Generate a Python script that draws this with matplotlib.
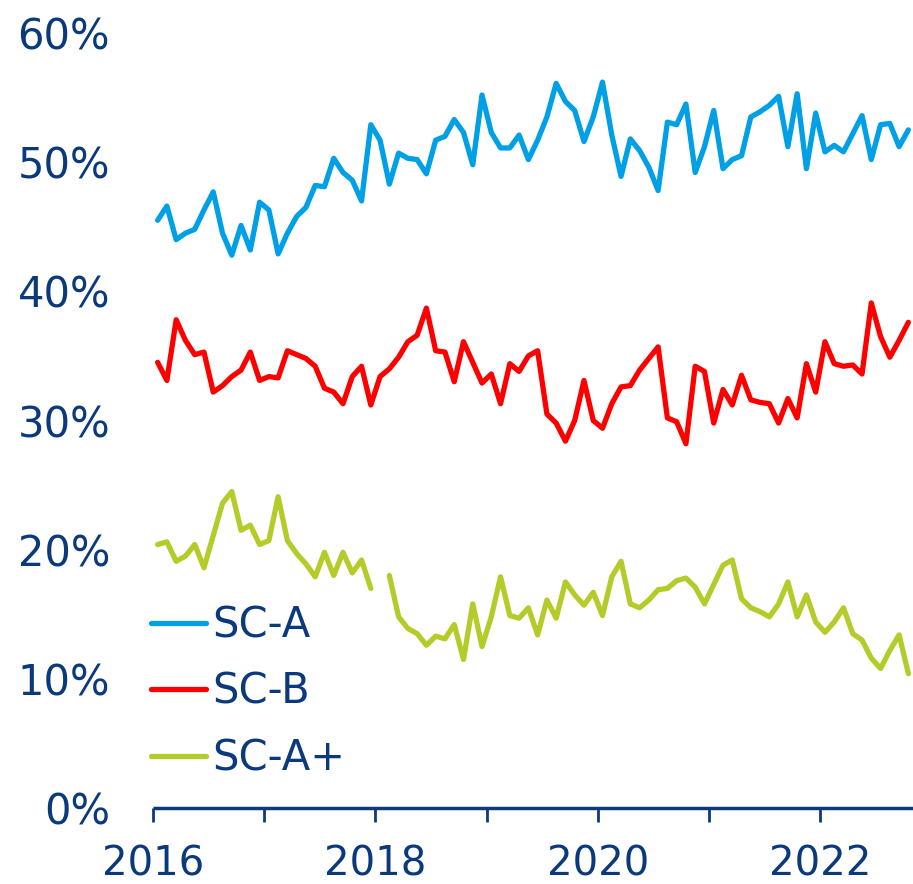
import numpy as np
import matplotlib
matplotlib.use("Agg")
import matplotlib.pyplot as plt

start_year = 2016
sc_a = [45.5, 46.6, 44.0, 44.5, 44.8, 46.3, 47.7, 44.5, 42.8, 45.1, 43.2, 46.9,
        46.3, 42.9, 44.5, 45.8, 46.5, 48.2, 48.1, 50.3, 49.2, 48.6, 47.0, 52.9,
        51.7, 48.3, 50.7, 50.3, 50.2, 49.1, 51.7, 52.0, 53.3, 52.3, 49.8, 55.2,
        52.3, 51.1, 51.1, 52.1, 50.2, 51.7, 53.5, 56.1, 54.7, 54.0, 51.6, 53.5,
        56.2, 52.1, 48.9, 51.8, 50.9, 49.6, 47.8, 53.1, 52.9, 54.5, 49.2, 51.2,
        54.0, 49.5, 50.2, 50.5, 53.5, 53.9, 54.4, 55.1, 51.2, 55.3, 49.5, 53.8,
        50.8, 51.3, 50.8, 52.2, 53.6, 50.2, 52.9, 53.0, 51.2, 52.5]
sc_b = [34.5, 33.1, 37.8, 36.2, 35.1, 35.3, 32.2, 32.7, 33.4, 33.9, 35.3, 33.1,
        33.4, 33.3, 35.4, 35.1, 34.8, 34.2, 32.5, 32.2, 31.3, 33.4, 34.2, 31.2,
        33.4, 34.0, 34.9, 36.1, 36.6, 38.7, 35.4, 35.3, 33.0, 36.1, 34.5, 32.9,
        33.6, 31.3, 34.4, 33.8, 35.0, 35.4, 30.5, 29.8, 28.4, 30.0, 33.1, 30.0,
        29.4, 31.3, 32.6, 32.7, 33.9, 34.8, 35.7, 30.2, 29.9, 28.2, 34.2, 33.8,
        29.8, 32.4, 31.2, 33.5, 31.6, 31.4, 31.3, 29.8, 31.7, 30.2, 34.4, 32.2,
        36.1, 34.4, 34.2, 34.3, 33.6, 39.1, 36.5, 34.9, 36.2, 37.6]
sc_aplus = [20.4, 20.6, 19.1, 19.5, 20.4, 18.6, 21.1, 23.6, 24.5, 21.5, 21.9, 20.4,
            20.7, 24.1, 20.7, 19.7, 18.9, 17.9, 19.8, 18.0, 19.8, 18.2, 19.2, 17.0,
            np.nan, 18.0, 14.8, 13.9, 13.5, 12.6, 13.3, 13.1, 14.2, 11.5, 15.8, 12.5,
            14.8, 17.9, 14.9, 14.7, 15.5, 13.4, 16.1, 14.7, 17.5, 16.5, 15.7, 16.7,
            14.9, 17.9, 19.1, 15.8, 15.5, 16.1, 16.9, 17.0, 17.6, 17.8, 17.1, 15.8,
            17.3, 18.8, 19.2, 16.2, 15.5, 15.2, 14.8, 15.8, 17.5, 14.8, 16.5, 14.4,
            13.6, 14.4, 15.5, 13.5, 13.0, 11.6, 10.8, 12.2, 13.4, 10.4]
series_names = ["SC-A", "SC-B", "SC-A+"]
y_ticks = [0, 10, 20, 30, 40, 50, 60]
x_label_years = [2016, 2018, 2020, 2022]

n = len(sc_a)
x = start_year + (np.arange(n) + 0.5) / 12.0

navy = "#0B3A7C"
colors = ["#00A0E6", "#FF0000", "#B4CC2A"]

fig = plt.figure(figsize=(9.13, 8.84), dpi=100)
ax = fig.add_axes([153/913, 1 - 808/884, 760/913, 775/884])

for vals, name, c in zip([sc_a, sc_b, sc_aplus], series_names, colors):
    ax.plot(x, vals, color=c, lw=3.8, label=name,
            solid_joinstyle="round", solid_capstyle="round")

ax.set_xlim(2016, 2016 + 6 + 10/12)
ax.set_ylim(0, 60)

ax.set_yticks(y_ticks)
ax.set_yticklabels([f"{v}%" for v in y_ticks])
years = list(range(2016, 2023))
ax.set_xticks(years)
ax.set_xticklabels([str(y) if y in x_label_years else "" for y in years])

for s in ["top", "right", "left"]:
    ax.spines[s].set_visible(False)
ax.spines["bottom"].set_color(navy)
ax.spines["bottom"].set_linewidth(2.5)
ax.spines["bottom"].set_capstyle("butt")

ax.tick_params(axis="y", length=0, pad=31, labelsize=30, labelcolor=navy)
ax.tick_params(axis="x", direction="out", length=10, width=2, color=navy,
               pad=16, labelsize=29, labelcolor=navy)

leg = ax.legend(loc="upper left", bbox_to_anchor=(-0.002, 0.263), frameon=False,
                fontsize=30, handlelength=1.3, handletextpad=0.15,
                labelspacing=0.59, borderpad=0, borderaxespad=0)
for t in leg.get_texts():
    t.set_color(navy)

fig.savefig("out.png", dpi=100)
